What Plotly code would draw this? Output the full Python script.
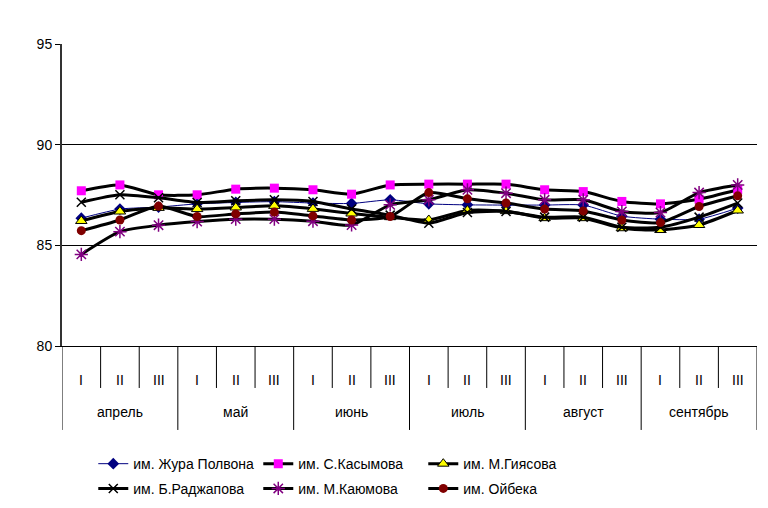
import plotly.graph_objects as go

# Декады по месяцам
months = ["апрель", "май", "июнь", "июль", "август", "сентябрь"]
decades = ["I", "II", "III"]

# Значения по декадам (18 точек на серию)
zhura_polvona = [86.35, 86.80, 86.90, 87.06, 87.13, 87.17, 87.10, 87.08, 87.26,
                 87.06, 87.01, 87.00, 87.00, 87.00, 86.45, 86.30, 86.30, 86.85]
s_kasymova = [87.71, 88.00, 87.51, 87.51, 87.79, 87.84, 87.76, 87.54, 88.00,
              88.04, 88.04, 88.04, 87.76, 87.67, 87.18, 87.06, 87.29, 87.76]
m_giyasova = [86.21, 86.68, 86.86, 86.80, 86.88, 86.96, 86.81, 86.58, 86.40,
              86.26, 86.73, 86.70, 86.35, 86.35, 85.85, 85.76, 86.01, 86.73]
b_radzhapova = [87.14, 87.51, 87.36, 87.13, 87.21, 87.26, 87.18, 86.80, 86.50,
                86.10, 86.63, 86.68, 86.40, 86.40, 85.90, 85.90, 86.40, 87.10]
m_kayumova = [84.55, 85.68, 86.00, 86.18, 86.30, 86.30, 86.20, 86.01, 87.01,
              87.26, 87.76, 87.59, 87.26, 87.26, 86.68, 86.63, 87.62, 88.00]
oybeka = [85.73, 86.26, 86.95, 86.43, 86.56, 86.65, 86.46, 86.26, 86.43,
          87.62, 87.31, 87.10, 86.80, 86.71, 86.26, 86.13, 86.93, 87.46]

y_ticks = [80, 85, 90, 95]

n = len(months) * len(decades)
xs = list(range(n))

# (имя, значения, линия, маркер, легенда)
series = [
    ("им. Жура Полвона", zhura_polvona,
     dict(color="#000080", width=1),
     dict(symbol="diamond", color="#000080", size=9), "legend"),
    ("им. С.Касымова", s_kasymova,
     dict(color="black", width=3),
     dict(symbol="square", color="#FF00FF", size=9), "legend"),
    ("им. М.Гиясова", m_giyasova,
     dict(color="black", width=3),
     dict(symbol="triangle-up", color="#FFFF00", size=10,
          line=dict(color="black", width=1)), "legend"),
    ("им. Б.Раджапова", b_radzhapova,
     dict(color="black", width=3),
     dict(symbol="x-thin-open", color="black", size=9,
          line=dict(color="black", width=1.5)), "legend2"),
    ("им. М.Каюмова", m_kayumova,
     dict(color="black", width=3),
     dict(symbol="asterisk-open", color="#800080", size=11,
          line=dict(color="#800080", width=1.5)), "legend2"),
    ("им. Ойбека", oybeka,
     dict(color="black", width=3),
     dict(symbol="circle", color="#800000", size=9), "legend2"),
]

fig = go.Figure()
for name, vals, line, marker, leg in series:
    fig.add_trace(go.Scatter(
        x=xs, y=vals, name=name, mode="lines+markers",
        line=dict(shape="spline", smoothing=0.6, **line),
        marker=marker, legend=leg,
    ))

font = "Liberation Sans, Arial, sans-serif"
fsize = 14

shapes = []
# Разделители декад и месяцев под осью
for i in range(n + 1):
    xb = i - 0.5
    bottom = -0.278 if i % 3 == 0 else -0.139
    shapes.append(dict(type="line", xref="x", yref="paper",
                       x0=xb, x1=xb, y0=0, y1=bottom,
                       line=dict(color="black", width=1)))

annotations = []
for i in range(n):
    annotations.append(dict(x=i, y=-0.113, xref="x", yref="paper",
                            yanchor="middle", xanchor="center",
                            text=decades[i % 3], showarrow=False,
                            font=dict(size=fsize, color="black", family=font)))
for m, month in enumerate(months):
    annotations.append(dict(x=m * 3 + 1, y=-0.219, xref="x", yref="paper",
                            yanchor="middle", xanchor="center",
                            text=month, showarrow=False,
                            font=dict(size=fsize, color="black", family=font)))

legend_common = dict(orientation="h", x=0.045, xanchor="left", yanchor="top",
                     entrywidth=120, entrywidthmode="pixels",
                     font=dict(size=fsize, family=font), itemwidth=30,
                     bgcolor="rgba(0,0,0,0)")

fig.update_layout(
    width=768, height=508,
    margin=dict(l=62, r=11, t=44, b=162, autoexpand=False),
    paper_bgcolor="white", plot_bgcolor="white",
    font=dict(family=font, size=fsize, color="black"),
    showlegend=True,
    legend=dict(y=-0.338, **legend_common),
    legend2=dict(y=-0.42, **legend_common),
    shapes=shapes,
    annotations=annotations,
)
fig.update_xaxes(range=[-0.5, n - 0.5], showticklabels=False, showgrid=False,
                 zeroline=False, showline=True, linecolor="black", linewidth=1,
                 ticks="")
fig.update_yaxes(range=[80, 95], tickvals=y_ticks, showgrid=True,
                 gridcolor="black", gridwidth=1, zeroline=False,
                 showline=True, linecolor="#333333", linewidth=2,
                 ticks="outside", ticklen=5, tickcolor="black",
                 tickfont=dict(size=fsize, family=font))

fig.write_html("out.html")
